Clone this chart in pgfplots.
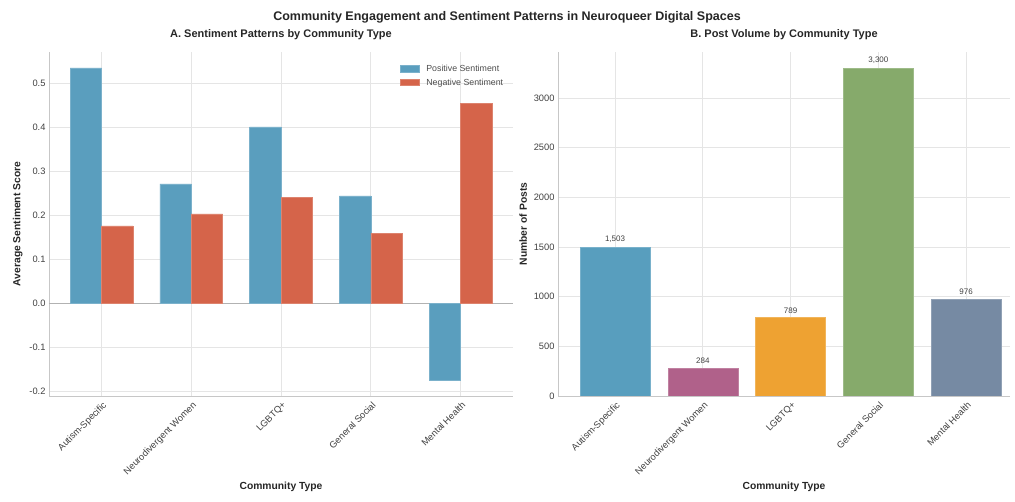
\documentclass[border=0pt]{standalone}
\usepackage{fontspec}
\setmainfont{Liberation Sans}
\usepackage{pgfplots}
\pgfplotsset{compat=1.18}
\definecolor{pos}{HTML}{5A9EBE}
\definecolor{neg}{HTML}{D5644A}
\definecolor{cA}{HTML}{589EBE}
\definecolor{cB}{HTML}{B0618A}
\definecolor{cC}{HTML}{EEA232}
\definecolor{cD}{HTML}{86AA6B}
\definecolor{cE}{HTML}{768AA3}
\pgfplotsset{
  common/.style={
    scale only axis, height=344pt,
    axis x line*=bottom, axis y line*=left,
    axis line style={draw=black!22, line width=0.9pt},
    grid=major, grid style={draw=black!10, line width=0.8pt},
    major tick length=0pt,
    /pgf/number format/assume math mode=true,
    tick label style={font=\fontsize{9.3}{11}\selectfont, text=black!75},
    xtick={0,1,2,3,4},
    xticklabels={Autism-Specific, Neurodivergent Women, LGBTQ+, General Social, Mental Health},
    x tick label style={rotate=45, anchor=north east, inner sep=1pt, yshift=-3pt, xshift=-2pt},
    label style={font=\bfseries\fontsize{10.3}{12}\selectfont, text=black!85},
    title style={font=\bfseries\fontsize{11}{13}\selectfont, text=black!85, at={(0.5,1)}, anchor=south, yshift=3pt},
    xlabel={Community Type},
  }
}
\begin{document}
\begin{tikzpicture}[x=1pt,y=1pt]
\path[use as bounding box] (-49,-106) rectangle (966,396);
\node[font=\bfseries\fontsize{12.5}{14}\selectfont, text=black!85] at (458,379) {Community Engagement and Sentiment Patterns in Neuroqueer Digital Spaces};
\begin{axis}[common, at={(0pt,0pt)}, anchor=south west, width=464pt,
  xmin=-0.585, xmax=4.585, ymin=-0.21, ymax=0.572,
  ytick={-0.2,-0.1,0,0.1,0.2,0.3,0.4,0.5},
  yticklabel style={/pgf/number format/fixed, /pgf/number format/fixed zerofill, /pgf/number format/precision=1},
  ylabel={Average Sentiment Score},
  title={A. Sentiment Patterns by Community Type},
  bar width=0.35,
  legend style={at={(0.99,0.975)}, anchor=north east, draw=none, fill=none, font=\fontsize{8.8}{10}\selectfont, text=black!70, row sep=2pt, column sep=5pt},
  legend cell align=left,
  legend image code/.code={\fill[#1] (0pt,-3pt) rectangle (19pt,3.5pt);},
]
\draw[black!30, line width=1pt] (axis cs:-0.585,0) -- (axis cs:4.585,0);
\addplot[ybar, bar shift=-0.175, fill=pos, draw=pos!80!white] coordinates {(0,0.536) (1,0.272) (2,0.402) (3,0.245) (4,-0.174)};
\addlegendentry{Positive Sentiment}
\addplot[ybar, bar shift=0.175, fill=neg, draw=neg!80!white] coordinates {(0,0.177) (1,0.204) (2,0.241) (3,0.160) (4,0.455)};
\addlegendentry{Negative Sentiment}
\end{axis}
\begin{axis}[common, at={(509pt,0pt)}, anchor=south west, width=452pt,
  xmin=-0.65, xmax=4.5, ymin=0, ymax=3465,
  ytick={0,500,1000,1500,2000,2500,3000},
  yticklabel style={/pgf/number format/1000 sep={}},
  ylabel={Number of Posts},
  title={B. Post Volume by Community Type},
  bar width=0.8,
  every node near coord/.append style={font=\fontsize{8}{9}\selectfont, text=black!75, anchor=south, yshift=1pt, /pgf/number format/1000 sep={,}},
]
\addplot[ybar, bar shift=0, fill=cA, draw=cA!80!white, nodes near coords] coordinates {(0,1503)};
\addplot[ybar, bar shift=0, fill=cB, draw=cB!80!white, nodes near coords] coordinates {(1,284)};
\addplot[ybar, bar shift=0, fill=cC, draw=cC!80!white, nodes near coords] coordinates {(2,789)};
\addplot[ybar, bar shift=0, fill=cD, draw=cD!80!white, nodes near coords] coordinates {(3,3300)};
\addplot[ybar, bar shift=0, fill=cE, draw=cE!80!white, nodes near coords] coordinates {(4,976)};
\end{axis}
\end{tikzpicture}
\end{document}
